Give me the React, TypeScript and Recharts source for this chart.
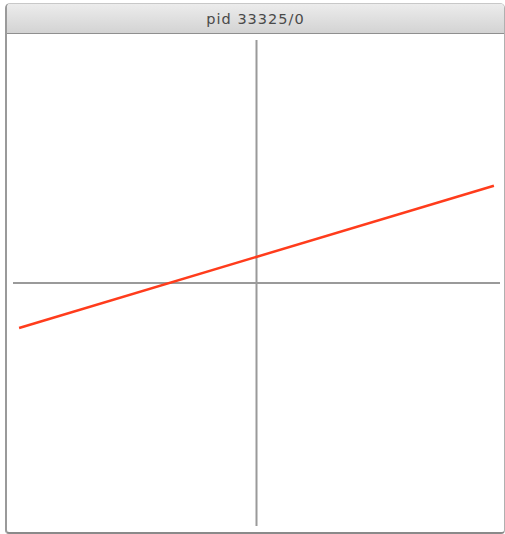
import React from "react";
import { LineChart, Line, XAxis, YAxis, ReferenceLine } from "recharts";

const xValues = [-0.975, 0.975];
const yValues = [-0.185, 0.4];
const data = xValues.map((x, i) => ({ x, y: yValues[i] }));

export default function App() {
  return (
    <div style={{ position: "fixed", left: 0, top: 0, width: 505, height: 534, background: "#fff", overflow: "hidden" }}>
      <div
        style={{
          position: "absolute",
          left: 5,
          top: 3,
          width: 500,
          height: 531,
          borderLeft: "2px solid #9a9a9a",
          borderBottom: "2px solid #8a8a8a",
          borderRight: "1px solid #b0b0b0",
          borderTop: "1px solid #c8c8c8",
          borderRadius: "5px 5px 4px 4px",
          boxSizing: "border-box",
          background: "#fff",
          overflow: "hidden",
        }}
      >
        <div
          style={{
            height: 29,
            background: "linear-gradient(#ececec, #d3d3d3)",
            borderBottom: "1px solid #8f8f8f",
            textAlign: "center",
            fontFamily: "'DejaVu Sans', sans-serif",
            fontSize: 14.5,
            letterSpacing: 1,
            lineHeight: "31px",
            color: "#4a4a4a",
          }}
        >
          pid 33325/0
        </div>
      </div>
      <div style={{ position: "absolute", left: 13, top: 40 }}>
        <LineChart width={487} height={486} data={data} margin={{ top: 0, right: 0, bottom: 0, left: 0 }}>
          <XAxis type="number" dataKey="x" domain={[-1, 1]} hide />
          <YAxis type="number" domain={[-1, 1]} hide />
          <ReferenceLine x={0} stroke="#9a9a9a" strokeWidth={2} />
          <ReferenceLine y={0} stroke="#9a9a9a" strokeWidth={2} />
          <Line type="linear" dataKey="y" stroke="#ff3c1c" strokeWidth={2.5} dot={false} isAnimationActive={false} />
        </LineChart>
      </div>
    </div>
  );
}
